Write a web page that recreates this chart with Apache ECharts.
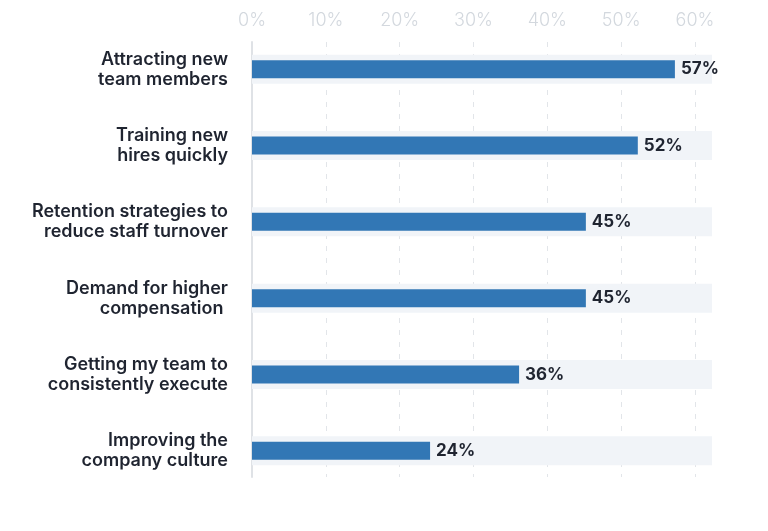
<!DOCTYPE html>
<html>
<head>
<meta charset="utf-8">
<script src="https://cdn.jsdelivr.net/npm/echarts@6/dist/echarts.min.js"></script>
<style>html,body{margin:0;padding:0;background:#fff;}#c{width:768px;height:531px;}</style>
</head>
<body>
<div id="c"></div>
<script>
const categories = [
  'Attracting new\nteam members',
  'Training new\nhires quickly',
  'Retention strategies to\nreduce staff turnover',
  'Demand for higher\ncompensation ',
  'Getting my team to\nconsistently execute',
  'Improving the\ncompany culture'
];
const values = [57, 52, 45, 45, 36, 24];
const tickValues = [0, 10, 20, 30, 40, 50, 60];
const trackMax = 62;

const FONT = 'Inter, "Noto Sans", sans-serif';
const chart = echarts.init(document.getElementById('c'));
chart.setOption({
  animation: false,
  grid: [
    {left: 252, right: 56, top: 31, bottom: 42},
    {left: 252, right: 73, top: 42, bottom: 54}
  ],
  xAxis: [
    {gridIndex: 0, type: 'value', min: 0, max: trackMax, show: false},
    {gridIndex: 1, type: 'value', min: tickValues[0], max: tickValues[tickValues.length - 1], interval: 10,
      position: 'top',
      axisLine: {show: false}, axisTick: {show: false},
      axisLabel: {formatter: '{value}%', color: '#d3d8de', fontSize: 18, fontWeight: 300, margin: 12, fontFamily: FONT},
      splitLine: {show: true, lineStyle: {type: [5, 7], color: '#e2e5e9', width: 1}}
    }
  ],
  yAxis: [
    {gridIndex: 0, type: 'category', data: categories, inverse: true,
      axisLine: {show: false}, axisTick: {show: false}, splitLine: {show: false},
      axisLabel: {color: '#1f2430', fontSize: 18, fontWeight: 600, lineHeight: 20, margin: 24, fontFamily: FONT, align: 'right'}
    },
    {gridIndex: 0, type: 'category', data: categories, inverse: true, show: false},
    {gridIndex: 1, type: 'value', min: 0, max: 1,
      axisLine: {show: true, lineStyle: {color: '#dfe2e6', width: 2}},
      axisTick: {show: false}, axisLabel: {show: false}, splitLine: {show: false}
    }
  ],
  series: [
    {type: 'bar', xAxisIndex: 0, yAxisIndex: 1, data: categories.map(() => trackMax),
      barWidth: 29, itemStyle: {color: '#f1f4f8'}, silent: true, z: 1},
    {type: 'bar', xAxisIndex: 0, yAxisIndex: 0, data: values,
      barWidth: 18, itemStyle: {color: '#3277b5'}, z: 3,
      label: {show: true, position: 'right', distance: 6, formatter: '{c}%',
        color: '#1f2430', fontSize: 17, fontWeight: 700, fontFamily: FONT}
    }
  ]
});
</script>
</body>
</html>
